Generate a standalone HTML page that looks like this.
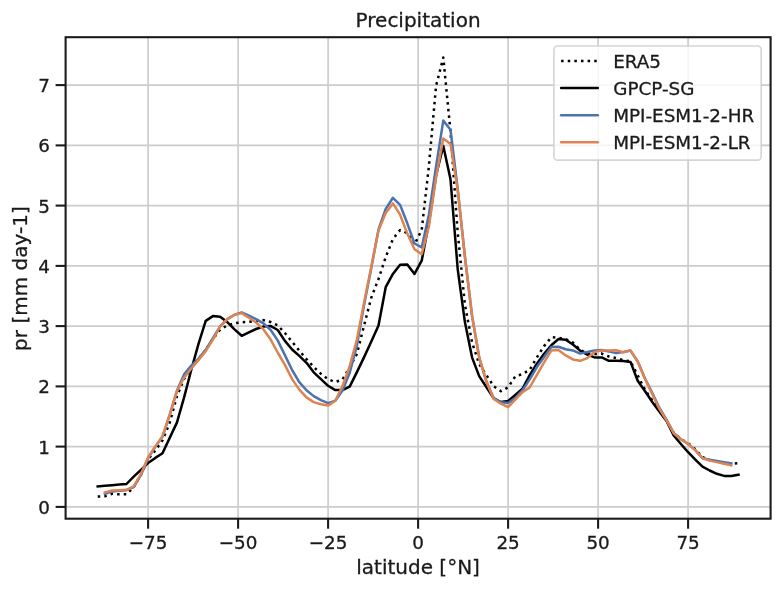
<!DOCTYPE html>
<html lang="en">
<head>
<meta charset="utf-8">
<title>Precipitation</title>
<style>
html,body{margin:0;padding:0;background:#ffffff;}
body{width:782px;height:590px;overflow:hidden;font-family:'DejaVu Sans','Liberation Sans',sans-serif;}
svg text{font-family:'DejaVu Sans','Liberation Sans',sans-serif;stroke:#1a1a1a;stroke-width:0.3px;}
</style>
</head>
<body>
<svg width="782" height="590" viewBox="0 0 782 590" style="display:block;font-family:'DejaVu Sans','Liberation Sans',sans-serif">
<rect x="0" y="0" width="782" height="590" fill="#ffffff"/>
<g stroke="#cccccc" stroke-width="1.67" fill="none">
<line x1="148.1" y1="37.2" x2="148.1" y2="518.7"/>
<line x1="238.1" y1="37.2" x2="238.1" y2="518.7"/>
<line x1="328.1" y1="37.2" x2="328.1" y2="518.7"/>
<line x1="418.1" y1="37.2" x2="418.1" y2="518.7"/>
<line x1="508.1" y1="37.2" x2="508.1" y2="518.7"/>
<line x1="598.1" y1="37.2" x2="598.1" y2="518.7"/>
<line x1="688.1" y1="37.2" x2="688.1" y2="518.7"/>
<line x1="65.6" y1="506.9" x2="770.6" y2="506.9"/>
<line x1="65.6" y1="446.6" x2="770.6" y2="446.6"/>
<line x1="65.6" y1="386.4" x2="770.6" y2="386.4"/>
<line x1="65.6" y1="326.1" x2="770.6" y2="326.1"/>
<line x1="65.6" y1="265.9" x2="770.6" y2="265.9"/>
<line x1="65.6" y1="205.6" x2="770.6" y2="205.6"/>
<line x1="65.6" y1="145.4" x2="770.6" y2="145.4"/>
<line x1="65.6" y1="85.1" x2="770.6" y2="85.1"/>
</g>
<g stroke="#1a1a1a" stroke-width="2.08" fill="none">
<line x1="148.1" y1="518.7" x2="148.1" y2="528.7"/>
<line x1="238.1" y1="518.7" x2="238.1" y2="528.7"/>
<line x1="328.1" y1="518.7" x2="328.1" y2="528.7"/>
<line x1="418.1" y1="518.7" x2="418.1" y2="528.7"/>
<line x1="508.1" y1="518.7" x2="508.1" y2="528.7"/>
<line x1="598.1" y1="518.7" x2="598.1" y2="528.7"/>
<line x1="688.1" y1="518.7" x2="688.1" y2="528.7"/>
<line x1="55.599999999999994" y1="506.9" x2="65.6" y2="506.9"/>
<line x1="55.599999999999994" y1="446.6" x2="65.6" y2="446.6"/>
<line x1="55.599999999999994" y1="386.4" x2="65.6" y2="386.4"/>
<line x1="55.599999999999994" y1="326.1" x2="65.6" y2="326.1"/>
<line x1="55.599999999999994" y1="265.9" x2="65.6" y2="265.9"/>
<line x1="55.599999999999994" y1="205.6" x2="65.6" y2="205.6"/>
<line x1="55.599999999999994" y1="145.4" x2="65.6" y2="145.4"/>
<line x1="55.599999999999994" y1="85.1" x2="65.6" y2="85.1"/>
</g>
<g fill="none" stroke-width="2.5" stroke-linejoin="round">
<polyline stroke="#000000" stroke-dasharray="2.5 4.125" points="97.7,496.6 104.9,496.3 112.1,493.8 119.3,494.3 126.5,494.3 133.7,487.1 140.9,474.6 148.1,459.3 155.3,450.5 162.5,440.3 169.7,422.8 176.9,396.2 184.1,378.8 191.3,367.9 198.5,359.5 205.7,349.9 212.9,339.0 220.1,329.4 227.3,325.5 234.5,323.3 241.7,322.3 248.9,321.8 256.1,320.9 263.3,320.1 270.5,322.0 277.7,325.3 284.9,333.0 292.1,341.8 299.3,350.6 306.5,359.1 313.7,366.9 320.9,373.8 328.1,379.3 335.3,382.0 342.5,379.5 349.7,367.3 356.9,353.9 364.1,325.4 371.3,297.6 378.5,279.0 385.7,257.2 392.9,239.0 400.1,230.1 407.3,233.0 414.5,244.4 421.7,230.0 428.9,166.1 436.1,85.7 443.3,57.5 450.5,131.7 457.7,232.4 464.9,304.7 472.1,342.6 479.3,364.3 486.5,375.2 493.7,386.3 500.9,391.2 508.1,387.3 515.3,376.4 522.5,374.1 529.7,369.8 536.9,357.4 544.1,346.1 551.3,337.2 558.5,337.8 565.7,339.1 572.9,342.5 580.1,349.9 587.3,353.4 594.5,354.1 601.7,353.6 608.9,356.5 616.1,358.1 623.3,360.1 630.5,361.3 637.7,375.4 644.9,389.6 652.1,400.2 659.3,410.4 666.5,420.6 673.7,433.0 680.9,439.0 688.1,443.2 695.3,449.3 702.5,457.1 709.7,460.1 716.9,461.6 724.1,462.8 731.3,463.7 738.5,463.1"/>
<polyline stroke="#000000" stroke-linecap="square" points="97.7,486.4 104.9,485.8 112.1,485.2 119.3,484.6 126.5,484.0 133.7,476.6 140.9,469.9 148.1,463.1 155.3,457.9 162.5,453.2 169.7,437.9 176.9,422.6 184.1,397.4 191.3,369.7 198.5,343.8 205.7,320.9 212.9,316.1 220.1,316.8 227.3,322.1 234.5,329.4 241.7,335.8 248.9,332.4 256.1,329.0 263.3,326.6 270.5,325.9 277.7,330.0 284.9,340.9 292.1,349.5 299.3,355.9 306.5,362.8 313.7,372.3 320.9,379.1 328.1,385.8 335.3,390.1 342.5,390.0 349.7,386.6 356.9,372.1 364.1,357.1 371.3,341.4 378.5,325.4 385.7,287.2 392.9,273.9 400.1,264.7 407.3,264.4 414.5,273.9 421.7,260.7 428.9,222.7 436.1,175.1 443.3,145.9 450.5,179.3 457.7,269.1 464.9,322.1 472.1,357.6 479.3,376.4 486.5,387.2 493.7,398.3 500.9,402.1 508.1,401.0 515.3,394.9 522.5,388.8 529.7,375.2 536.9,363.7 544.1,353.8 551.3,345.3 558.5,339.0 565.7,339.8 572.9,344.5 580.1,350.6 587.3,354.7 594.5,357.4 601.7,357.4 608.9,360.8 616.1,360.7 623.3,360.9 630.5,361.9 637.7,380.8 644.9,391.0 652.1,401.7 659.3,411.4 666.5,421.0 673.7,435.5 680.9,444.0 688.1,452.2 695.3,459.6 702.5,466.7 709.7,470.5 716.9,473.8 724.1,475.9 731.3,476.1 738.5,474.8"/>
<polyline stroke="#4c72b0" stroke-linecap="square" points="104.9,493.8 112.1,491.4 119.3,490.8 126.5,490.2 133.7,487.2 140.9,475.2 148.1,458.3 155.3,446.9 162.5,436.6 169.7,414.9 176.9,390.8 184.1,374.4 191.3,365.6 198.5,358.6 205.7,349.9 212.9,338.1 220.1,326.4 227.3,319.1 234.5,314.7 241.7,312.5 248.9,315.7 256.1,319.1 263.3,323.3 270.5,329.8 277.7,340.4 284.9,355.1 292.1,370.0 299.3,382.1 306.5,390.3 313.7,396.1 320.9,400.2 328.1,403.1 335.3,400.8 342.5,390.6 349.7,372.7 356.9,345.6 364.1,304.7 371.3,267.9 378.5,229.4 385.7,209.0 392.9,197.8 400.1,204.9 407.3,223.3 414.5,243.5 421.7,247.4 428.9,214.7 436.1,166.1 443.3,120.6 450.5,129.7 457.7,189.0 464.9,256.5 472.1,316.1 479.3,357.9 486.5,381.8 493.7,398.1 500.9,402.3 508.1,403.0 515.3,398.1 522.5,390.2 529.7,379.4 536.9,367.1 544.1,357.0 551.3,347.1 558.5,346.8 565.7,349.3 572.9,350.4 580.1,353.6 587.3,352.0 594.5,350.4 601.7,350.0 608.9,351.4 616.1,353.1 623.3,352.0 630.5,350.6 637.7,361.3 644.9,378.2 652.1,392.6 659.3,407.7 666.5,419.7 673.7,433.0 680.9,439.3 688.1,444.0 695.3,450.1 702.5,458.3 709.7,459.8 716.9,461.0 724.1,462.2 731.3,463.4"/>
<polyline stroke="#dd8452" stroke-linecap="square" points="104.9,492.5 112.1,490.5 119.3,490.2 126.5,489.8 133.7,486.4 140.9,474.2 148.1,457.3 155.3,446.4 162.5,436.2 169.7,414.9 176.9,391.3 184.1,377.7 191.3,368.5 198.5,360.1 205.7,351.1 212.9,339.6 220.1,326.6 227.3,319.1 234.5,314.7 241.7,313.1 248.9,317.8 256.1,322.5 263.3,329.2 270.5,339.3 277.7,352.5 284.9,364.9 292.1,379.1 299.3,389.6 306.5,397.4 313.7,402.1 320.9,404.2 328.1,405.6 335.3,400.8 342.5,386.0 349.7,366.2 356.9,339.6 364.1,302.4 371.3,266.7 378.5,230.6 385.7,213.1 392.9,203.4 400.1,214.7 407.3,233.6 414.5,249.2 421.7,254.1 428.9,226.3 436.1,177.2 443.3,138.5 450.5,143.9 457.7,190.2 464.9,256.5 472.1,316.1 479.3,357.9 486.5,381.8 493.7,399.0 500.9,403.7 508.1,407.1 515.3,399.6 522.5,392.2 529.7,387.4 536.9,374.8 544.1,362.3 551.3,350.6 558.5,350.0 565.7,355.4 572.9,359.4 580.1,360.8 587.3,358.1 594.5,352.0 601.7,350.4 608.9,350.6 616.1,350.3 623.3,352.3 630.5,350.6 637.7,361.8 644.9,378.8 652.1,393.7 659.3,408.7 666.5,420.3 673.7,433.2 680.9,439.3 688.1,444.0 695.3,450.1 702.5,458.3 709.7,460.6 716.9,462.1 724.1,463.7 731.3,465.3"/>
</g>
<rect x="65.6" y="37.2" width="705.0" height="481.5" fill="none" stroke="#1a1a1a" stroke-width="2.08"/>
<g fill="#1a1a1a" font-size="18.33px">
<text x="148.1" y="549.0" text-anchor="middle">−75</text>
<text x="238.1" y="549.0" text-anchor="middle">−50</text>
<text x="328.1" y="549.0" text-anchor="middle">−25</text>
<text x="418.1" y="549.0" text-anchor="middle">0</text>
<text x="508.1" y="549.0" text-anchor="middle">25</text>
<text x="598.1" y="549.0" text-anchor="middle">50</text>
<text x="688.1" y="549.0" text-anchor="middle">75</text>
<text x="49.8" y="513.8" text-anchor="end">0</text>
<text x="49.8" y="453.5" text-anchor="end">1</text>
<text x="49.8" y="393.3" text-anchor="end">2</text>
<text x="49.8" y="333.0" text-anchor="end">3</text>
<text x="49.8" y="272.8" text-anchor="end">4</text>
<text x="49.8" y="212.5" text-anchor="end">5</text>
<text x="49.8" y="152.3" text-anchor="end">6</text>
<text x="49.8" y="92.0" text-anchor="end">7</text>
</g>
<text x="418.1" y="26.6" text-anchor="middle" font-size="20px" fill="#1a1a1a">Precipitation</text>
<text x="418.1" y="574.1" text-anchor="middle" font-size="20px" fill="#1a1a1a">latitude [°N]</text>
<text transform="translate(26.5,278.6) rotate(-90)" text-anchor="middle" font-size="20px" fill="#1a1a1a">pr [mm day-1]</text>
<rect x="553.9" y="46" width="207.3" height="114.2" rx="3.67" ry="3.67" fill="#ffffff" fill-opacity="0.8" stroke="#cccccc" stroke-opacity="0.8" stroke-width="1.67"/>
<line x1="561.1" y1="60.90" x2="597.8" y2="60.90" stroke="#000000" stroke-width="2.5" stroke-dasharray="2.5 4.125"/>
<text x="613.2" y="68.2" font-size="18.33px" fill="#1a1a1a">ERA5</text>
<line x1="561.1" y1="88.05" x2="597.8" y2="88.05" stroke="#000000" stroke-width="2.5" stroke-linecap="round"/>
<text x="613.2" y="95.2" font-size="18.33px" fill="#1a1a1a">GPCP-SG</text>
<line x1="561.1" y1="115.20" x2="597.8" y2="115.20" stroke="#4c72b0" stroke-width="2.5" stroke-linecap="round"/>
<text x="613.2" y="122.3" font-size="18.33px" fill="#1a1a1a">MPI-ESM1-2-HR</text>
<line x1="561.1" y1="142.35" x2="597.8" y2="142.35" stroke="#dd8452" stroke-width="2.5" stroke-linecap="round"/>
<text x="613.2" y="149.4" font-size="18.33px" fill="#1a1a1a">MPI-ESM1-2-LR</text>
</svg>
</body>
</html>
